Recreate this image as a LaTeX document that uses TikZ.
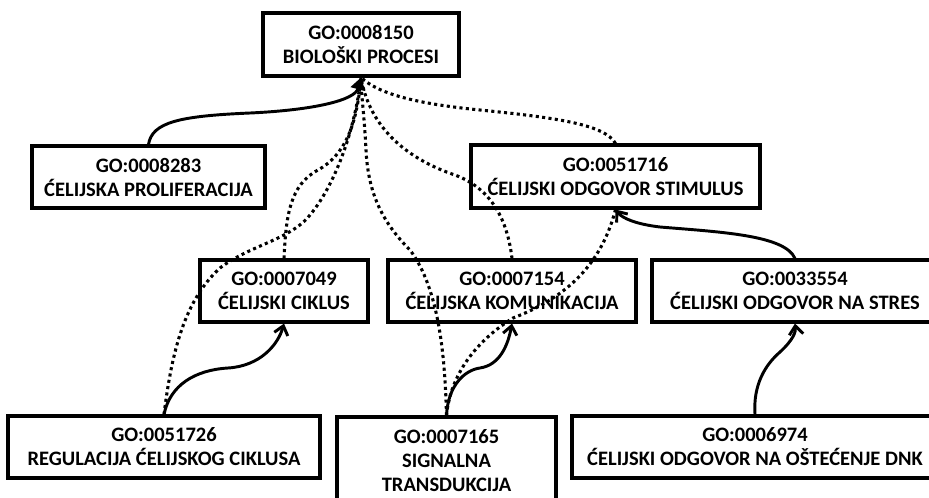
\documentclass[tikz,border=0pt]{standalone}
\usepackage{fontspec}
\setmainfont{Carlito}
\usetikzlibrary{arrows.meta}
\tikzset{
  gobox/.style={draw, line width=2.3pt, inner sep=0pt, align=center,
    font=\bfseries\fontsize{15.4}{18}\selectfont},
  isa/.style={line width=2.2pt, -{Straight Barb[length=6.5pt,width=10.5pt]}},
  isatop/.style={line width=2.2pt, -{Triangle[length=9pt,width=11pt]}},
  rel/.style={line width=2.3pt, dash pattern=on 2.3pt off 2.5pt}
}
\begin{document}
\begin{tikzpicture}[x=0.75pt,y=-0.75pt]
\useasboundingbox (0,0) rectangle (929,497);
\clip (0,0) rectangle (929,497);
% boxes
\node[gobox, minimum width=147pt, minimum height=47.25pt] (top) at (361,44.5) {GO:0008150\\BIOLOŠKI PROCESI};
\node[gobox, minimum width=174.75pt, minimum height=46.5pt] (p8283) at (148.5,177) {GO:0008283\\ĆELIJSKA PROLIFERACIJA};
\node[gobox, minimum width=216.75pt, minimum height=47.25pt] (s51716) at (615.5,176.5) {GO:0051716\\ĆELIJSKI ODGOVOR STIMULUS};
\node[gobox, minimum width=126pt, minimum height=46.5pt] (c7049) at (284,291) {GO:0007049\\ĆELIJSKI CIKLUS};
\node[gobox, minimum width=186pt, minimum height=46.5pt] (k7154) at (512,291) {GO:0007154\\ĆELIJSKA KOMUNIKACIJA};
\node[gobox, minimum width=214.5pt, minimum height=46.5pt] (o33554) at (795,291) {GO:0033554\\ĆELIJSKI ODGOVOR NA STRES};
\node[gobox, minimum width=234pt, minimum height=46.5pt] (r51726) at (164,447) {GO:0051726\\REGULACIJA ĆELIJSKOG CIKLUSA};
\node[gobox, minimum width=164.25pt, minimum height=66pt] (t7165) at (446.5,461) {GO:0007165\\SIGNALNA\\TRANSDUKCIJA};
\node[gobox, minimum width=274.5pt, minimum height=46.5pt] (d6974) at (755,447) {GO:0006974\\ĆELIJSKI ODGOVOR NA OŠTEĆENJE DNK};
% dotted relations
\draw[rel] (c7049.north) .. controls (286,215) and (290,185) .. (318,170) .. controls (345,155) and (357,125) .. (top.south);
\draw[rel] (r51726.north) .. controls (172,350) and (185,300) .. (220,268) .. controls (250,245) and (290,240) .. (310,215) .. controls (335,185) and (355,130) .. (top.south);
\draw[rel] (k7154.north) .. controls (508,225) and (495,190) .. (455,175) .. controls (410,160) and (370,130) .. (top.south);
\draw[rel] (s51716.north) .. controls (605,125) and (560,118) .. (480,110) .. controls (420,104) and (380,95) .. (top.south);
\draw[rel] (t7165.north) .. controls (445,360) and (440,290) .. (410,250) .. controls (380,220) and (368,190) .. (366,150) .. controls (364,110) and (361,95) .. (top.south);
\draw[rel] (t7165.north) .. controls (450,380) and (470,345) .. (513,318) .. controls (560,300) and (600,270) .. (s51716.south);
% solid is_a
\draw[isatop] (p8283.north) .. controls (152,122) and (180,116) .. (250,113) .. controls (315,110) and (355,100) .. (top.south);
\draw[isa] (r51726.north) .. controls (170,385) and (195,370) .. (228,368) .. controls (260,366) and (278,345) .. (c7049.south);
\draw[isa] (t7165.north) .. controls (448,385) and (465,370) .. (480,368) .. controls (500,365) and (508,345) .. (k7154.south);
\draw[isa] (o33554.north) .. controls (785,235) and (720,232) .. (660,227) .. controls (635,224) and (622,218) .. (s51716.south);
\draw[isa] (d6974.north) .. controls (753,385) and (765,365) .. (780,352) .. controls (793,340) and (796,332) .. (o33554.south);
\end{tikzpicture}
\end{document}
